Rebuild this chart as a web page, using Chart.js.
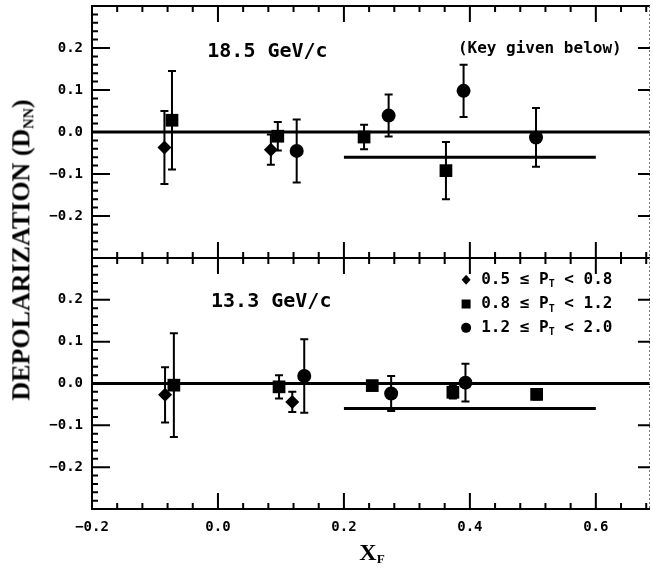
<!DOCTYPE html>
<html>
<head>
<meta charset="utf-8">
<script src="https://cdn.jsdelivr.net/npm/chart.js@4.4.0/dist/chart.umd.min.js"></script>
<style>
    html, body { margin: 0; padding: 0; background: #fff; }
    #wrap { position: relative; width: 653px; height: 572px; overflow: hidden; }
    #topChart { position: absolute; left: 0; top: 0; }
    #botChart { position: absolute; left: 0; top: 258px; }
    .ytitle {
        position: absolute; left: 22px; top: 250px;
        transform: translate(-50%, -50%) rotate(-90deg);
        font: bold 26px "Liberation Serif"; white-space: nowrap; color: #000;
    }
    .xtitle {
        position: absolute; left: 372px; top: 553px;
        transform: translate(-50%, -50%);
        font: bold 24px "Liberation Serif"; white-space: nowrap; color: #000;
    }
    sub { font-size: 55%; vertical-align: -0.3em; }
</style>
</head>
<body>
<div id="wrap">
    <canvas id="topChart" width="653" height="258"></canvas>
    <canvas id="botChart" width="653" height="314"></canvas>
    <div class="ytitle">DEPOLARIZATION (D<sub>NN</sub>)</div>
    <div class="xtitle">X<sub>F</sub></div>
</div>
<script>
// axis setup
const xMin = -0.2, xMax = 0.686;
const yMin = -0.3, yMax = 0.3;
const xTickValues = [-0.2, 0.0, 0.2, 0.4, 0.6];
const yTickValues = [-0.2, -0.1, 0.0, 0.1, 0.2];

// 18.5 GeV/c panel
const hiLabel = '18.5 GeV/c';
const hiNote = '(Key given below)';
const hiDiamondX = [-0.085, 0.084];
const hiDiamondY = [-0.037, -0.042];
const hiDiamondErr = [0.087, 0.036];
const hiSquareX = [-0.073, 0.095, 0.232, 0.362];
const hiSquareY = [0.028, -0.010, -0.012, -0.092];
const hiSquareErr = [0.117, 0.034, 0.029, 0.068];
const hiCircleX = [0.125, 0.271, 0.390, 0.505];
const hiCircleY = [-0.045, 0.039, 0.098, -0.013];
const hiCircleErr = [0.075, 0.050, 0.062, 0.070];

// 13.3 GeV/c panel
const loLabel = '13.3 GeV/c';
const loDiamondX = [-0.084, 0.118];
const loDiamondY = [-0.027, -0.044];
const loDiamondErr = [0.066, 0.024];
const loSquareX = [-0.070, 0.097, 0.245, 0.373, 0.506];
const loSquareY = [-0.004, -0.008, -0.005, -0.021, -0.026];
const loSquareErr = [0.124, 0.028, 0.010, 0.015, 0.012];
const loCircleX = [0.137, 0.275, 0.393];
const loCircleY = [0.018, -0.024, 0.002];
const loCircleErr = [0.088, 0.042, 0.045];

// reference lines (zero and the -0.06 level)
const zeroLineX = [xMin, xMax];
const zeroLineY = [0, 0];
const refLineX = [0.2, 0.6];
const refLineY = [-0.06, -0.06];

// key (P_T ranges)
const keyLow = ['0.5', '0.8', '1.2'];
const keyHigh = ['0.8', '1.2', '2.0'];
const keyStyles = ['rectRot', 'rect', 'circle'];

const pts = (xs, ys) => xs.map((x, i) => ({ x: x, y: ys[i] }));
const FONT = '"DejaVu Sans Mono", monospace';

function markerSet(xs, ys, errs, style, radius) {
    return {
        type: 'scatter',
        data: pts(xs, ys),
        errors: errs,
        pointStyle: style,
        pointRadius: radius,
        pointHoverRadius: radius,
        backgroundColor: '#000',
        borderColor: '#000',
        borderWidth: 0
    };
}

function lineSet(xs, ys) {
    return {
        type: 'line',
        data: pts(xs, ys),
        borderColor: '#000',
        borderWidth: 3,
        pointRadius: 0,
        showLine: true,
        fill: false
    };
}

// Error bars under the markers
const errorBarPlugin = {
    id: 'errorBars',
    beforeDatasetsDraw(chart) {
        const { ctx, scales: { x, y } } = chart;
        ctx.save();
        ctx.strokeStyle = '#000';
        ctx.lineWidth = 2;
        chart.data.datasets.forEach(ds => {
            if (!ds.errors) return;
            ds.data.forEach((p, i) => {
                const e = ds.errors[i];
                const px = x.getPixelForValue(p.x);
                const y1 = y.getPixelForValue(p.y + e);
                const y2 = y.getPixelForValue(p.y - e);
                ctx.beginPath();
                ctx.moveTo(px, y1); ctx.lineTo(px, y2);
                ctx.moveTo(px - 4, y1); ctx.lineTo(px + 4, y1);
                ctx.moveTo(px - 4, y2); ctx.lineTo(px + 4, y2);
                ctx.stroke();
            });
        });
        ctx.restore();
    }
};

// Frame with inward ticks
const framePlugin = {
    id: 'frame',
    afterDraw(chart) {
        const { ctx, chartArea: a, scales: { x, y } } = chart;
        ctx.save();
        ctx.strokeStyle = '#000';
        ctx.lineWidth = 2;
        ctx.beginPath();
        ctx.moveTo(a.right, a.top); ctx.lineTo(a.left, a.top);
        ctx.lineTo(a.left, a.bottom); ctx.lineTo(a.right, a.bottom);
        ctx.stroke();
        // faint right edge
        ctx.lineWidth = 1;
        ctx.setLineDash([2, 2]);
        ctx.strokeStyle = '#777';
        ctx.beginPath(); ctx.moveTo(a.right - 0.5, a.top); ctx.lineTo(a.right - 0.5, a.bottom); ctx.stroke();
        ctx.setLineDash([]);
        ctx.strokeStyle = '#000';
        ctx.lineWidth = 2;
        ctx.beginPath();
        // x ticks, top and bottom
        for (let k = 1; xMin + k * 0.04 < xMax; k++) {
            const v = xMin + k * 0.04;
            const px = x.getPixelForValue(v);
            const major = k % 5 === 0;
            const len = major ? 16 : 6;
            ctx.moveTo(px, a.top); ctx.lineTo(px, a.top + len);
            ctx.moveTo(px, a.bottom); ctx.lineTo(px, a.bottom - len);
        }
        // y ticks, left (minor every 0.02)
        for (let k = 1; k < 30; k++) {
            const v = yMin + k * 0.02;
            const py = y.getPixelForValue(v);
            const major = k % 5 === 0;
            const len = major ? 18 : 6;
            ctx.moveTo(a.left, py); ctx.lineTo(a.left + len, py);
        }
        // y ticks, right (major only)
        yTickValues.forEach(v => {
            if (v === 0) return;
            const py = y.getPixelForValue(v);
            ctx.moveTo(a.right, py); ctx.lineTo(a.right - 12, py);
        });
        ctx.stroke();
        ctx.restore();
    }
};

// Panel texts and key
const textPlugin = {
    id: 'panelText',
    afterDraw(chart, args, opts) {
        const { ctx, scales: { x, y } } = chart;
        ctx.save();
        ctx.fillStyle = '#000';
        ctx.textBaseline = 'middle';
        ctx.textAlign = 'left';
        (opts.items || []).forEach(it => {
            ctx.font = it.font;
            ctx.fillText(it.text, x.getPixelForValue(it.x), y.getPixelForValue(it.y));
        });
        if (opts.key) {
            const k = opts.key;
            keyLow.forEach((lo, i) => {
                const mx = x.getPixelForValue(k.x);
                const my = y.getPixelForValue(k.y[i]);
                ctx.beginPath();
                if (keyStyles[i] === 'rectRot') {
                    ctx.moveTo(mx, my - 5); ctx.lineTo(mx + 4.5, my); ctx.lineTo(mx, my + 5); ctx.lineTo(mx - 4.5, my);
                    ctx.closePath();
                } else if (keyStyles[i] === 'rect') {
                    ctx.rect(mx - 4.5, my - 4.5, 9, 9);
                } else {
                    ctx.arc(mx, my, 5, 0, Math.PI * 2);
                }
                ctx.fill();
                let tx = x.getPixelForValue(k.textX);
                ctx.font = 'bold 16px ' + FONT;
                const s1 = lo + ' \u2264 P';
                ctx.fillText(s1, tx, my);
                tx += ctx.measureText(s1).width;
                ctx.font = 'bold 10px ' + FONT;
                ctx.fillText('T', tx, my + 5);
                tx += ctx.measureText('T').width;
                ctx.font = 'bold 16px ' + FONT;
                ctx.fillText(' < ' + keyHigh[i], tx, my);
            });
        }
        ctx.restore();
    }
};

function yScale() {
    return {
        type: 'linear',
        min: yMin,
        max: yMax,
        grid: { display: false, drawTicks: false, tickLength: 0 },
        border: { display: false },
        afterBuildTicks: s => { s.ticks = yTickValues.map(v => ({ value: v })); },
        afterFit: s => { s.width = 92; s.paddingTop = 0; s.paddingBottom = 0; },
        ticks: {
            color: '#000',
            padding: 9,
            font: { family: FONT, size: 14, weight: 'bold' },
            callback: v => (v < 0 ? '\u2212' : '') + Math.abs(v).toFixed(1)
        }
    };
}

const commonPlugins = {
    legend: { display: false },
    tooltip: { enabled: false }
};

new Chart(document.getElementById('topChart'), {
    type: 'scatter',
    data: {
        datasets: [
            lineSet(zeroLineX, zeroLineY),
            lineSet(refLineX, refLineY),
            markerSet(hiDiamondX, hiDiamondY, hiDiamondErr, 'rectRot', 7),
            markerSet(hiSquareX, hiSquareY, hiSquareErr, 'rect', 9),
            markerSet(hiCircleX, hiCircleY, hiCircleErr, 'circle', 7)
        ]
    },
    options: {
        responsive: false,
        animation: false,
        layout: { autoPadding: false, padding: { top: 6, right: 3, left: 0, bottom: 0 } },
        scales: {
            x: { type: 'linear', min: xMin, max: xMax, display: false },
            y: yScale()
        },
        plugins: Object.assign({
            panelText: {
                items: [
                    { text: hiLabel, x: -0.017, y: 0.19, font: 'bold 20px ' + FONT },
                    { text: hiNote, x: 0.381, y: 0.198, font: 'bold 16px ' + FONT }
                ]
            }
        }, commonPlugins)
    },
    plugins: [errorBarPlugin, framePlugin, textPlugin]
});

new Chart(document.getElementById('botChart'), {
    type: 'scatter',
    data: {
        datasets: [
            lineSet(zeroLineX, zeroLineY),
            lineSet(refLineX, refLineY),
            markerSet(loDiamondX, loDiamondY, loDiamondErr, 'rectRot', 7),
            markerSet(loSquareX, loSquareY, loSquareErr, 'rect', 9),
            markerSet(loCircleX, loCircleY, loCircleErr, 'circle', 7)
        ]
    },
    options: {
        responsive: false,
        animation: false,
        layout: { autoPadding: false, padding: { top: 0, right: 3, left: 0, bottom: 0 } },
        scales: {
            x: {
                type: 'linear',
                min: xMin,
                max: xMax,
                grid: { display: false, drawTicks: false, tickLength: 0 },
                border: { display: false },
                afterBuildTicks: s => { s.ticks = xTickValues.map(v => ({ value: v })); },
                afterFit: s => { s.height = 63; s.paddingLeft = 0; s.paddingRight = 0; },
                ticks: {
                    color: '#000',
                    padding: 10,
                    maxRotation: 0,
                    font: { family: FONT, size: 14, weight: 'bold' },
                    callback: v => (v < 0 ? '\u2212' : '') + Math.abs(v).toFixed(1)
                }
            },
            y: yScale()
        },
        plugins: Object.assign({
            panelText: {
                items: [
                    { text: loLabel, x: -0.011, y: 0.195, font: 'bold 20px ' + FONT }
                ],
                key: { x: 0.394, textX: 0.418, y: [0.248, 0.19, 0.133] }
            }
        }, commonPlugins)
    },
    plugins: [errorBarPlugin, framePlugin, textPlugin]
});
</script>
</body>
</html>
